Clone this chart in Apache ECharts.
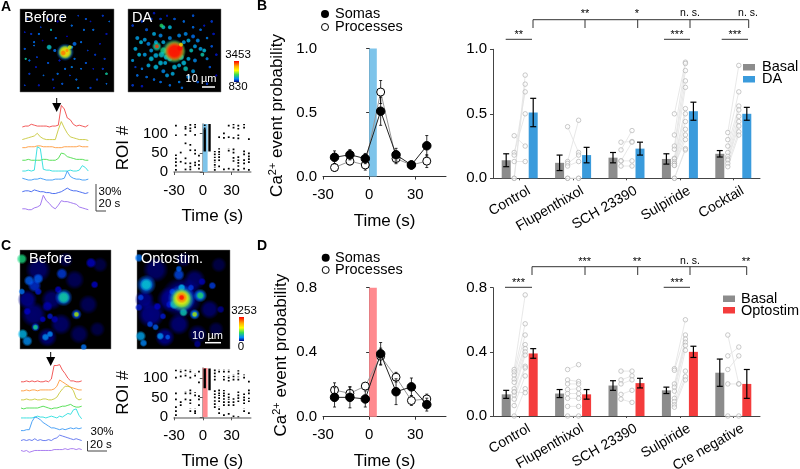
<!DOCTYPE html>
<html><head><meta charset="utf-8">
<style>html,body{margin:0;padding:0;background:#fff}#c{width:800px;height:469px}</style>
<script src="https://cdn.jsdelivr.net/npm/echarts@6/dist/echarts.min.js"></script>
</head><body><div id="c"></div>
<script>
const FONT='"Liberation Sans",Arial,sans-serif';
// ---------- line panels
const lineTimes=[-22.5,-12.5,-2.5,7.5,17.5,27.5,37.5];
const somasB=[.15,.17,.14,.51,.17,.09,.24], somasBse=[.05,.04,.04,.11,.05,.03,.08];
const procB=[.07,.12,.09,.66,.14,.09,.12], procBse=[.03,.03,.04,.09,.04,.03,.05];
const somasD=[.12,.12,.11,.39,.155,.185,.075], somasDse=[.06,.065,.05,.07,.08,.055,.04];
const procD=[.165,.145,.19,.375,.245,.10,.11], procDse=[.045,.04,.02,.05,.03,.03,.03];
// ---------- bar panels
const catsB=['Control','Flupenthixol','SCH 23390','Sulpiride','Cocktail'];
const catsD=['Control','Flupenthixol','SCH 23390','Sulpiride','Cre negative'];
const basalB=[.14,.12,.16,.15,.19], basalBse=[.05,.06,.04,.04,.025];
const daB=[.51,.18,.23,.52,.50], daBse=[.11,.06,.05,.07,.05];
const basalD=[.135,.14,.19,.16,.27], basalDse=[.025,.025,.03,.02,.085];
const optoD=[.39,.135,.205,.40,.20], optoDse=[.03,.03,.03,.035,.09];
const pairsBbasal=[[.33,.2,.18,.13,0,0],[.4,.13,.115,.095,0,0],[.28,.22,.135,.135,.095],[.5,.336,.25,.225,.155,.15,.13,.115,.115,.10,.10,0,0],[.355,.3,.25,.2,.17,.15,.14,.115,.09]];
const pairsBda=[[.25,.5,.67,.13,.8,.73],[.2,.45,.18,.13,0,0],[.285,.37,.28,.135,.095],[.9,.89,.835,.755,.705,.54,.5,.44,.38,.336,.30,.23,.22],[.875,.67,.56,.53,.48,.44,.405,.36,.335]];
const pairsDbasal=[[.29,.275,.255,.23,.21,.17,.15,.13,.105,.065,0,.15],[.29,.225,.2,.165,.14,.11,.06,0],[.28,.225,.2,.135,.105],[.295,.285,.2,.18,.155,.11,.09,.07,.055],[.505,.375,.29,.2,0]];
const pairsDopto=[[.755,.575,.505,.445,.42,.40,.38,.31,.30,.25,.17,.145],[.32,.215,.2,.17,.14,.11,.06,0],[.28,.25,.225,.16,.085],[.6,.505,.48,.46,.44,.41,.28,.245,.225],[.2,.43,.375,.2,0]];
// ---------- traces (percent above own baseline, one sample per 6 s)
const traceOffsetsA=[96,81,73,59,47,37,22,4];
const traceColors=['#f04848','#c8c83c','#ff9a3c','#4add4a','#2adede','#3a98f5','#3a60ee','#9a6cee'];
const tracesA=[
[0,1,1,3,2,1,1,1,1,0,1,1,2,24,20,10,8,3,1,2,1,0,2],
[1,2,3,4,5,8,4,2,1,1,1,1,12,21,14,8,4,3,2,1,1,1,0],
[0,0,1,1,1,2,2,1,1,1,1,0,0,0,1,1,1,1,1,2,1,1,1],
[0,0,1,0,0,0,0,1,1,0,0,0,2,8,7,4,3,2,1,1,1,0,0],
[0,0,1,0,1,27,25,2,1,1,0,0,0,0,0,0,1,0,0,1,6,4,0],
[2,1,0,0,1,1,2,1,0,0,0,1,1,1,2,10,4,2,1,1,0,0,1],
[2,3,3,2,4,3,2,2,1,1,0,0,1,2,4,6,4,3,3,2,1,0,1],
[1,1,0,0,2,3,5,16,10,7,3,1,5,10,9,9,8,7,6,3,2,1,0]];
const traceOffsetsC=[81,71,60,51,40,27,15,4];
const traceColorsC=['#f04848','#ff9a3c','#c8c83c','#4add4a','#2adede','#3a98f5','#5a70ee','#a070ee'];
const tracesC=[
[0,0,1,0,1,0,1,0,0,1,0,3,18,18,19,13,9,4,1,1,0,0,1],
[0,0,1,0,1,1,0,1,1,1,1,1,2,5,12,10,8,6,4,3,2,1,1],
[1,1,2,1,1,2,1,1,2,2,1,1,2,4,9,13,16,16,15,11,3,1,2],
[1,0,1,1,1,1,1,2,3,2,1,0,1,1,2,3,3,4,5,3,2,2,3],
[1,1,1,1,1,2,3,2,2,1,2,3,2,1,3,2,4,6,5,10,11,4,0],
[0,0,1,1,10,15,14,12,9,7,5,3,3,2,1,2,1,2,3,2,3,2,3],
[1,2,1,2,1,3,1,2,1,1,2,1,3,4,7,6,5,4,3,2,3,2,1],
[1,0,1,-1,0,1,1,1,1,1,1,1,2,2,2,2,3,2,3,3,2,3,2]];
const traceSeconds=[0,6,12,18,24,30,36,42,48,54,60,66,72,78,84,90,96,102,108,114,120,126,132];
// ---------- rasters: [time, first ROI, last ROI]
const rasterA=[[-28,120,126],[-28,95,98],[-28,43,46],[-28,34,37],[-28,25,28],[-28,16,19],[-28,5,8],[-23,50,52],[-23,26,28],[-18,117,120],[-18,112,114],[-18,96,98],[-18,74,76],[-18,35,37],[-18,22,24],[-18,6,8],[-13,122,125],[-13,113,116],[-13,106,109],[-13,70,72],[-13,56,59],[-13,22,24],[-13,13,15],[-13,6,8],[-8,123,125],[-8,116,119],[-8,96,98],[-8,56,59],[-8,47,50],[-8,24,26],[-8,17,19],[-4,42,45],[-4,28,31],[-4,18,21],[-4,8,10],[2,55,110],[2,113,125],[7,55,125],[12.5,45,53],[12.5,30,38],[12.5,18,25],[12.5,5,12],[17,90,92],[17,52,60],[17,38,46],[17,30,33],[17,14,17],[22,100,102],[22,88,90],[22,6,8],[27,120,125],[27,90,92],[27,55,60],[27,8,10],[32,115,126],[32,88,92],[32,50,60],[32,28,38],[32,6,8],[37,112,125],[37,87,100],[37,30,40],[37,15,25],[37,5,10],[43,115,125],[43,45,55],[43,22,35],[43,8,12],[48,85,90],[48,40,50],[48,25,35],[48,5,10]];
const rasterC=[[-28,118,121],[-28,100,104],[-28,60,62],[-28,45,50],[-28,25,28],[-28,15,18],[-28,5,8],[-23,115,120],[-23,103,106],[-23,30,40],[-18,118,122],[-18,105,110],[-18,60,65],[-18,45,50],[-13,115,120],[-13,100,104],[-13,60,70],[-13,35,45],[-13,15,20],[-8,105,110],[-8,55,62],[-8,15,20],[-8,10,12],[-4,115,118],[-4,88,90],[-4,45,55],[-4,30,35],[2,75,122],[7,70,122],[12.5,95,122],[12.5,50,70],[12.5,25,45],[17,115,120],[17,60,70],[17,40,55],[17,20,25],[17,10,14],[22,115,120],[22,95,103],[22,60,68],[22,30,55],[22,5,10],[27,115,120],[27,92,105],[27,50,60],[27,30,45],[27,8,12],[32,95,108],[32,30,50],[32,2,6],[37,110,118],[37,95,102],[37,55,65],[37,40,50],[37,0,4],[43,100,107],[43,50,60],[43,35,45],[43,15,20],[48,90,95],[48,60,70],[48,40,48],[48,10,14]];
// ---------- micrographs: [x%, y%, intensity 0-1, spot diameter]
const imgBeforeA=[[12,30,.25,3],[20,30,.3,3],[22,22,.25,2.5],[40,15,.2,3],[45,10,.25,3],[55,20,.3,3],[62,8,.25,2.5],[70,12,.28,3],[78,25,.3,3],[88,8,.25,3],[92,30,.22,3],[95,15,.3,2.5],[8,12,.25,2.5],[30,12,.22,3],[15,44,.3,2.5],[5,48,.28,3],[10,62,.3,3],[18,58,.25,2.5],[30,65,.28,3],[25,80,.3,2.5],[10,78,.25,3],[5,92,.25,2.5],[40,78,.3,3],[45,90,.28,3],[55,70,.32,3],[60,85,.3,3],[62,95,.32,3],[70,65,.28,3],[72,50,.25,2.5],[80,55,.25,3],[85,42,.22,2.5],[90,60,.25,3],[92,78,.45,3.5],[82,85,.25,3],[92,90,.3,2.5],[75,95,.25,3],[65,40,.3,3],[68,25,.3,3],[50,33,.2,2.5],[38,35,.3,3],[35,85,.25,3],[20,92,.22,3],[15,40,.3,3],[33,25,.42,3],[48,72,.3,3],[58,60,.3,3],[65,72,.3,2.5],[78,72,.22,2.5],[88,72,.25,3],[5,28,.22,2.5],[6,60,.45,3],[24,38,.2,2.5],[42,62,.22,3],[53,80,.25,2.5],[75,15,.22,2.5],[17,70,.22,2.5],[36,95,.22,2.5],
[31,46,.42,6],[37,50,.3,4],[58,42,.3,5],[55,46,.35,4],[48,52,.3,18],[48,52,.6,15],[48,52,.72,13],[53,46,.66,5],[46,53,.82,6],[50,50,.8,4]];
const imgDA=[[5,20,.25,3.5],[15,15,.25,3.5],[25,12,.25,3.5],[28,5,.22,3.5],[70,8,.28,3.5],[85,90,.25,3.5],[5,92,.25,3.5],[15,93,.22,3.5],[90,15,.25,3.5],[92,30,.22,3.5],[95,55,.22,3.5],[45,92,.3,3.5],[58,95,.3,3.5],[75,88,.28,3.5],[35,88,.3,3.5],[28,85,.3,3.5],[88,70,.28,3.5],[90,45,.28,3.5],[50,12,.28,3.5],[60,15,.3,3.5],[70,22,.3,3.5],[78,25,.3,3.5],[85,35,.32,3.5],[10,80,.3,3.5],[20,82,.3,3.5],[15,72,.32,3.5],[55,88,.32,3.5],[82,20,.22,3],[95,80,.2,3],[8,70,.25,3],[42,8,.22,3],[35,12,.25,3.5],
[10,35,.36,5],[14,40,.4,5],[18,37,.36,5],[22,42,.33,5],[8,48,.38,5],[12,55,.4,5],[18,55,.36,5],[5,62,.36,4],[25,60,.4,6],[22,68,.38,5],[30,70,.4,6],[35,65,.4,6],[40,65,.38,5],[45,60,.4,6],[38,75,.33,5],[42,80,.36,5],[48,78,.38,5],[50,70,.4,6],[55,68,.38,5],[60,65,.4,6],[65,60,.38,5],[62,72,.43,6],[70,75,.36,5],[65,82,.33,5],[72,62,.33,5],[68,50,.43,5],[72,45,.36,5],[78,48,.36,5],[80,55,.44,5],[82,50,.4,5],[85,60,.33,4],[75,38,.33,5],[65,38,.38,5],[62,30,.33,5],[55,32,.33,5],[45,35,.33,5],[35,32,.33,5],[28,30,.38,5],[38,22,.42,5],[45,22,.4,5],[36,20,.5,5],[38,40,.38,5],[25,50,.36,5],[60,40,.36,5],[70,33,.3,5],[20,25,.28,4],[30,40,.36,5],
[31,45,.45,10],[38,50,.48,8],[36,55,.42,7],[30,56,.38,6],[57,58,.42,7],[41,58,.4,6],[49,51,.42,25],[50,51,.6,23],[31,45,.88,5],[50,51,.85,21],[50,51,1,18],[56,47,1,7],[57,43,.72,5]];
const imgBeforeC=[[35,50,.12,22],[20,20,.12,26],[60,30,.1,20],[15,65,.13,26],[45,75,.12,22],[75,55,.1,20],[65,85,.1,20],[85,80,.08,16],[30,88,.13,20],[8,50,.15,20],[88,15,.08,16],[50,10,.08,16],
[16,36,.24,14],[10,31,.28,11],[20,29,.28,11],[46,24,.25,12],[82,35,.2,8],[78,13,.2,11],[30,57,.18,11],[33,67,.22,7],[8,62,.2,8],[25,70,.2,7],[38,70,.18,8],[2,42,.3,7],[28,88,.33,8],[33,85,.33,7],[3,85,.38,11],[8,92,.33,11],[70,98,.3,7],[42,40,.2,8],[20,42,.22,8],[17,78,.25,9],[17,78,.48,6],[2,9,.48,11],[48,48,.28,18],[48,48,.46,13],[62,65,.26,11],[62,65,.62,6]];
const imgOptoC=[[35,50,.14,26],[20,20,.12,26],[62,30,.12,22],[15,65,.15,28],[45,75,.13,22],[78,60,.12,20],[65,85,.1,20],[85,80,.08,16],[30,88,.15,20],[8,50,.15,20],[88,15,.08,16],[50,10,.08,16],[48,48,.16,42],
[2,8,.3,9],[10,35,.28,20],[10,35,.42,13],[45,25,.26,12],[45,19,.28,7],[81,36,.25,8],[70,32,.18,8],[4,48,.26,7],[2,58,.22,8],[28,67,.22,7],[35,55,.22,8],[22,57,.2,8],[14,75,.26,7],[20,78,.28,7],[4,87,.36,11],[7,94,.32,8],[25,87,.34,8],[33,88,.28,6],[65,95,.15,8],[90,60,.15,8],[38,42,.25,7],[58,38,.25,7],
[68,46,.3,14],[68,46,.5,8],[62,65,.3,11],[62,65,.62,6],[40,55,.42,10],[50,63,.44,9],[48,38,.4,8],[48,49,.32,28],[48,50,.55,24],[48,49,.7,19],[48,48,.82,12],[48,48,1,6]];
const jetStops=[[0,0,0],[0,0,102],[0,0,204],[0,119,255],[0,204,238],[34,221,102],[153,238,0],[255,238,0],[255,136,0],[255,32,0],[255,0,0]];

function jetRgb(v){const p=Math.min(.9999,Math.max(0,v))*(jetStops.length-1),i=Math.floor(p),f=p-i,a=jetStops[i],b=jetStops[i+1];return [0,1,2].map(k=>Math.round(a[k]+(b[k]-a[k])*f)).join(',');}
const spot=s=>{const c=jetRgb(s[2]);return{value:s,itemStyle:{color:new echarts.graphic.RadialGradient(.5,.5,.5,[{offset:0,color:`rgba(${c},1)`},{offset:.55,color:`rgba(${c},.95)`},{offset:1,color:`rgba(${c},0)`}])}};};

const grids=[],xAxes=[],yAxes=[],series=[];
const TXT={color:'#000',fontFamily:FONT};
function hiddenAxis(min,max,inv){return{type:'value',min,max,inverse:!!inv,show:false,splitLine:{show:false}};}
function addGrid(x,y,w,h,extra){grids.push(Object.assign({left:x,top:y,width:w,height:h,containLabel:false,outerBoundsMode:'none'},extra||{}));return grids.length-1;}

function addImage(box,spots){
  const g=addGrid(box[0],box[1],box[2],box[3],{show:true,backgroundColor:'#000',borderColor:'#777',borderWidth:.5});
  xAxes.push(Object.assign(hiddenAxis(0,100),{gridIndex:g}));
  yAxes.push(Object.assign(hiddenAxis(0,100,true),{gridIndex:g}));
  series.push({type:'scatter',xAxisIndex:xAxes.length-1,yAxisIndex:yAxes.length-1,data:spots.map(spot),clip:true,silent:true,animation:false,
    encode:{x:0,y:1},symbolSize:d=>d[3]});
}
function addTraces(box,times,traces,offs,colors,ymax){
  const g=addGrid(box[0],box[1],box[2],box[3]);
  xAxes.push(Object.assign(hiddenAxis(0,132),{gridIndex:g}));
  yAxes.push(Object.assign(hiddenAxis(0,ymax),{gridIndex:g}));
  traces.forEach((t,i)=>series.push({type:'line',xAxisIndex:xAxes.length-1,yAxisIndex:yAxes.length-1,showSymbol:false,animation:false,silent:true,
    lineStyle:{color:colors[i],width:.9},data:t.map((v,k)=>[times[k],v+offs[i]])}));
}
function addRaster(box,runs,band,nameGap){
  const g=addGrid(box[0],box[1],box[2],box[3]);
  const axisLine={lineStyle:{color:'#8a8a8a',width:1.5}};
  xAxes.push({gridIndex:g,type:'value',min:-30,max:50,interval:30,axisLine:Object.assign({show:true},axisLine),axisTick:{show:true,length:3,inside:false,lineStyle:{color:'#555'}},splitLine:{show:false},
    axisLabel:Object.assign({fontSize:15,margin:11,showMaxLabel:false},TXT),name:'Time (s)',nameLocation:'middle',nameGap:36,nameTextStyle:Object.assign({fontSize:17},TXT)});
  yAxes.push({gridIndex:g,type:'value',min:0,max:125,interval:50,axisLine:Object.assign({show:true},axisLine),axisTick:{show:true,length:3,lineStyle:{color:'#555'}},splitLine:{show:false},
    axisLabel:Object.assign({fontSize:15,margin:6,showMaxLabel:false},TXT),name:'ROI #',nameLocation:'middle',nameGap:nameGap,nameTextStyle:Object.assign({fontSize:17},TXT)});
  const a=xAxes.length-1,b=yAxes.length-1;
  series.push({type:'custom',xAxisIndex:a,yAxisIndex:b,animation:false,silent:true,clip:true,z:1,data:[[0,5]],encode:{x:[0,1]},
    renderItem:(p,api)=>{const s=api.coord([api.value(0),125]),e=api.coord([api.value(1),0]);return{type:'rect',shape:{x:s[0],y:s[1],width:e[0]-s[0],height:e[1]-s[1]},style:{fill:band}};}});
  series.push({type:'custom',xAxisIndex:a,yAxisIndex:b,animation:false,silent:true,clip:true,z:3,data:runs,encode:{x:0,y:[1,2]},
    renderItem:(p,api)=>{const s=api.coord([api.value(0),api.value(1)]),e=api.coord([api.value(0),api.value(2)]);const long=api.value(2)-api.value(1)>30;
      return{type:'line',shape:{x1:s[0],y1:s[1]+.6,x2:e[0],y2:e[1]-.6},style:{stroke:'#000',lineWidth:long?2.4:1.8,lineDash:long?null:[1.7,1.4]}};}});
}
function errRender(capW,lw){return (p,api)=>{const x=api.value(0),lo=api.coord([x,api.value(1)]),hi=api.coord([x,api.value(2)]);const st={stroke:'#000',lineWidth:lw};
  return{type:'group',children:[
   {type:'line',shape:{x1:lo[0],y1:lo[1],x2:hi[0],y2:hi[1]},style:st},
   {type:'line',shape:{x1:lo[0]-capW,y1:lo[1],x2:lo[0]+capW,y2:lo[1]},style:st},
   {type:'line',shape:{x1:hi[0]-capW,y1:hi[1],x2:hi[0]+capW,y2:hi[1]},style:st}]};};}
function addLinePanel(box,ymax,interval,somas,somasSe,proc,procSe,band,nameGap){
  const g=addGrid(box[0],box[1],box[2],box[3]);
  xAxes.push({gridIndex:g,type:'value',min:-30,max:50,interval:30,axisLine:{show:true,lineStyle:{color:'#333',width:1}},axisTick:{show:true,length:3,lineStyle:{color:'#333'}},splitLine:{show:false},
    axisLabel:Object.assign({fontSize:15,margin:11,showMaxLabel:false},TXT),name:'Time (s)',nameLocation:'middle',nameGap:36,nameTextStyle:Object.assign({fontSize:17},TXT)});
  yAxes.push({gridIndex:g,type:'value',min:0,max:ymax,interval:interval,axisLine:{show:true,lineStyle:{color:'#333',width:1}},axisTick:{show:true,length:3,lineStyle:{color:'#333'}},splitLine:{show:false},
    axisLabel:Object.assign({fontSize:15,margin:6,formatter:v=>v.toFixed(1)},TXT),name:'{a|Ca}{b|2+}{a| event probability}',nameLocation:'middle',nameGap:nameGap,
    nameTextStyle:{fontSize:17,padding:[0,6,0,0],rich:{a:{fontSize:17,fontFamily:FONT,color:'#000',lineHeight:20},b:{fontSize:11,fontFamily:FONT,color:'#000',verticalAlign:'top',lineHeight:14}}}});
  const a=xAxes.length-1,b=yAxes.length-1;
  series.push({type:'custom',xAxisIndex:a,yAxisIndex:b,animation:false,silent:true,z:1,data:[[0,5]],encode:{x:[0,1]},
    renderItem:(p,api)=>{const s=api.coord([api.value(0),ymax]),e=api.coord([api.value(1),0]);return{type:'rect',shape:{x:s[0],y:s[1],width:e[0]-s[0],height:e[1]-s[1]},style:{fill:band}};}});
  const errs=(v,se)=>v.map((m,i)=>[lineTimes[i],m-se[i],m+se[i]]);
  [[proc,procSe,'#fff','#999'],[somas,somasSe,'#000','#222']].forEach((d,k)=>{
    series.push({type:'custom',xAxisIndex:a,yAxisIndex:b,animation:false,silent:true,z:2+k*2,data:errs(d[0],d[1]),encode:{x:0,y:[1,2]},renderItem:errRender(1.5,.8)});
    series.push({type:'line',xAxisIndex:a,yAxisIndex:b,animation:false,silent:true,z:3+k*2,symbol:'circle',symbolSize:k?8.5:8,
      lineStyle:{color:d[3],width:1},itemStyle:{color:d[2],borderColor:'#000',borderWidth:1},data:d[0].map((v,i)=>[lineTimes[i],v])});
  });
}
function addBarPanel(box,ymax,interval,cats,basal,basalSe,treat,treatSe,pb,pt,color){
  const g=addGrid(box[0],box[1],box[2],box[3]);
  xAxes.push({gridIndex:g,type:'category',data:cats,axisLine:{show:true,lineStyle:{color:'#444',width:1}},axisTick:{show:true,alignWithLabel:true,length:2,lineStyle:{color:'#444'}},
    axisLabel:Object.assign({fontSize:14,rotate:30,margin:17,interval:0,padding:[0,-11,0,0]},TXT)});
  xAxes.push(Object.assign(hiddenAxis(0,5),{gridIndex:g}));
  yAxes.push({gridIndex:g,type:'value',min:0,max:ymax,interval:interval,axisLine:{show:true,lineStyle:{color:'#444',width:1}},axisTick:{show:true,length:3,lineStyle:{color:'#444'}},splitLine:{show:false},
    axisLabel:Object.assign({fontSize:15,margin:6,formatter:v=>v.toFixed(1)},TXT)});
  const cx=xAxes.length-2,vx=xAxes.length-1,y=yAxes.length-1;
  series.push({type:'bar',xAxisIndex:cx,yAxisIndex:y,animation:false,silent:true,barWidth:9,barGap:'200%',itemStyle:{color:'#8c8c8c'},data:basal,z:2});
  series.push({type:'bar',xAxisIndex:cx,yAxisIndex:y,animation:false,silent:true,barWidth:9,barGap:'200%',itemStyle:{color:color},data:treat,z:2});
  const off=.103,bo=.253,lines=[],dotsB=[],dotsT=[];
  pb.forEach((arr,i)=>arr.forEach((v,k)=>{const c=i+.5;lines.push([c-off,v,c+off,pt[i][k]]);dotsB.push([c-off,v]);dotsT.push([c+off,pt[i][k]]);}));
  series.push({type:'custom',xAxisIndex:vx,yAxisIndex:y,animation:false,silent:true,z:3,data:lines,encode:{x:[0,2],y:[1,3]},
    renderItem:(p,api)=>{const s=api.coord([api.value(0),api.value(1)]),e=api.coord([api.value(2),api.value(3)]);return{type:'line',shape:{x1:s[0],y1:s[1],x2:e[0],y2:e[1]},style:{stroke:'#e2e2e2',lineWidth:.8}};}});
  [dotsB,dotsT].forEach(d=>series.push({type:'scatter',xAxisIndex:vx,yAxisIndex:y,animation:false,silent:true,z:4,symbolSize:4.5,clip:false,
    itemStyle:{color:'rgba(255,255,255,.6)',borderColor:'#b4b4b4',borderWidth:.9},data:d}));
  const errB=basal.map((v,i)=>[i+.5-bo,v-basalSe[i],v+basalSe[i]]),errT=treat.map((v,i)=>[i+.5+bo,v-treatSe[i],v+treatSe[i]]);
  series.push({type:'custom',xAxisIndex:vx,yAxisIndex:y,animation:false,silent:true,z:5,data:errB.concat(errT),encode:{x:0,y:[1,2]},renderItem:errRender(3,1.2)});
}

addImage([20,9,94,83],imgBeforeA);
addImage([128,9,93,83],imgDA);
addTraces([22.3,100,66,113.3],traceSeconds,tracesA,traceOffsetsA,traceColors,126);
addRaster([174,124,76.8,48],rasterA,'#7ec4ea',42);
addLinePanel([323,48.5,123,128],1,.5,somasB,somasBse,procB,procBse,'#7ec4ea',36);
addBarPanel([493,49.3,267,129],1,.5,catsB,basalB,basalBse,daB,daBse,pairsBbasal,pairsBda,'#3a9bdc');
addImage([20,250,91,99],imgBeforeC);
addImage([137,250,93,99],imgOptoC);
addTraces([21,358.3,60.7,96.7],traceSeconds,tracesC,traceOffsetsC,traceColorsC,107);
addRaster([174,368,76.8,49.3],rasterC,'#ff8a8f',42);
addLinePanel([323,287.7,123,129],.8,.4,somasD,somasDse,procD,procDse,'#ff8a8f',32);
addBarPanel([493,287.7,267,128.3],.8,.4,catsD,basalD,basalDse,optoD,optoDse,pairsDbasal,pairsDopto,'#f43c3c');

// ---------- annotations
const G=[];
const T=(x,y,text,size,o)=>G.push({type:'text',z:100,style:Object.assign({x,y,text,fill:'#000',font:(o&&o.weight?o.weight+' ':'')+size+'px '+FONT,align:'left',verticalAlign:'middle'},o||{})});
const L=(x1,y1,x2,y2,c,w)=>G.push({type:'line',z:100,shape:{x1,y1,x2,y2},style:{stroke:c||'#222',lineWidth:w||1}});
const R=(x,y,w,h,fill)=>G.push({type:'rect',z:100,shape:{x,y,width:w,height:h},style:{fill}});
[['A',1,7],['B',257,6],['C',1,246],['D',257,246]].forEach(d=>T(d[1],d[2],d[0],14,{weight:'bold'}));
T(24,18,'Before',14.5,{fill:'#fff'});T(132,18,'DA',14.5,{fill:'#fff'});
T(29,259,'Before',14.5,{fill:'#fff'});T(141,259,'Optostim.',14.5,{fill:'#fff'});
// scale bars
T(201,79,'10 µm',11,{fill:'#fff',align:'center'});L(202,87,215,87,'#fff',1.5);
T(207.5,336,'10 µm',11,{fill:'#fff',align:'center'});L(205,342.7,221,342.7,'#fff',1.5);
// colour bars
const bar=(x,y,w,h)=>G.push({type:'rect',z:100,shape:{x,y,width:w,height:h},style:{fill:new echarts.graphic.LinearGradient(0,0,0,1,[{offset:0,color:'#ff0000'},{offset:.25,color:'#ffaa00'},{offset:.45,color:'#ffff00'},{offset:.65,color:'#33dd55'},{offset:.85,color:'#0088ff'},{offset:1,color:'#000080'}])}});
bar(234,61,5,21);T(238,55,'3453',11.5,{align:'center'});T(238,87,'830',11.5,{align:'center'});
bar(239,317,5,24);T(244,311,'3253',11.5,{align:'center'});T(241,347,'0',11.5,{align:'center'});
// response arrows
const arrow=(x,y0,y1)=>{L(x,y0,x,y1-6,'#000',1);G.push({type:'polygon',z:100,shape:{points:[[x-4.5,y1-9],[x+4.5,y1-9],[x,y1]]},style:{fill:'#000'}});};
arrow(56.7,98,112);arrow(50.7,352,366);
// trace scale bars
L(96,184,96,211,'#444',1);L(96,211,106,211,'#444',1);T(98.5,191.7,'30%',11.5);T(98.5,204,'20 s',11.5);
L(87.5,441,87.5,451,'#444',1);L(87.5,451,107,451,'#444',1);T(90.5,431.7,'30%',11.5);T(90,445,'20 s',11.5);
// dot legends
[[14,27,325],[257.7,270,325.7]].forEach(d=>{
 G.push({type:'circle',z:100,shape:{cx:d[2],cy:d[0],r:4},style:{fill:'#000'}});
 G.push({type:'circle',z:100,shape:{cx:d[2],cy:d[1],r:3.5},style:{fill:'#fff',stroke:'#000',lineWidth:1}});
 T(335,d[0],'Somas',14.5);T(335,d[1],'Processes',14.5);
});
// bar legends
R(743,64,12,6.5,'#8c8c8c');R(743,76,12,6.5,'#3a9bdc');T(762,67,'Basal',14.5);T(762,79,'DA',14.5);
R(723,295.5,12,6.5,'#8c8c8c');R(723,307,12,6.5,'#f43c3c');T(741,298.5,'Basal',14.5);T(741,311,'Optostim.',14.5);
// significance
const sig=(top,drop,xs,labels,ly)=>{L(xs[0],top,xs[xs.length-1],top,'#333',1);xs.forEach(x=>L(x,top,x,drop,'#333',1));labels.forEach(l=>T(l[0],ly,l[1],l[1]==='n. s.'?10.5:11,{align:'center'}));};
sig(19.7,28,[533,585,637.7,690,748.7],[[585,'**'],[637,'*'],[690,'n. s.'],[748,'n. s.']],13.5);
[[505.7,532],[664,690],[721.7,748]].forEach((s,i)=>{L(s[0],39.3,s[1],39.3,'#333',1);T((s[0]+s[1])/2,34.5,i?'***':'**',11,{align:'center'});});
sig(266.7,275,[532,585,637.7,690,746.7],[[584.7,'***'],[637,'**'],[690,'n. s.'],[746,'**']],261.5);
[[505,532],[663.7,690]].forEach(s=>{L(s[0],287.3,s[1],287.3,'#333',1);T((s[0]+s[1])/2,282.5,'***',11,{align:'center'});});

const chart=echarts.init(document.getElementById('c'),null,{renderer:'canvas'});
chart.setOption({animation:false,backgroundColor:'#fff',textStyle:{fontFamily:FONT},grid:grids,xAxis:xAxes,yAxis:yAxes,series:series,graphic:G});
</script></body></html>
